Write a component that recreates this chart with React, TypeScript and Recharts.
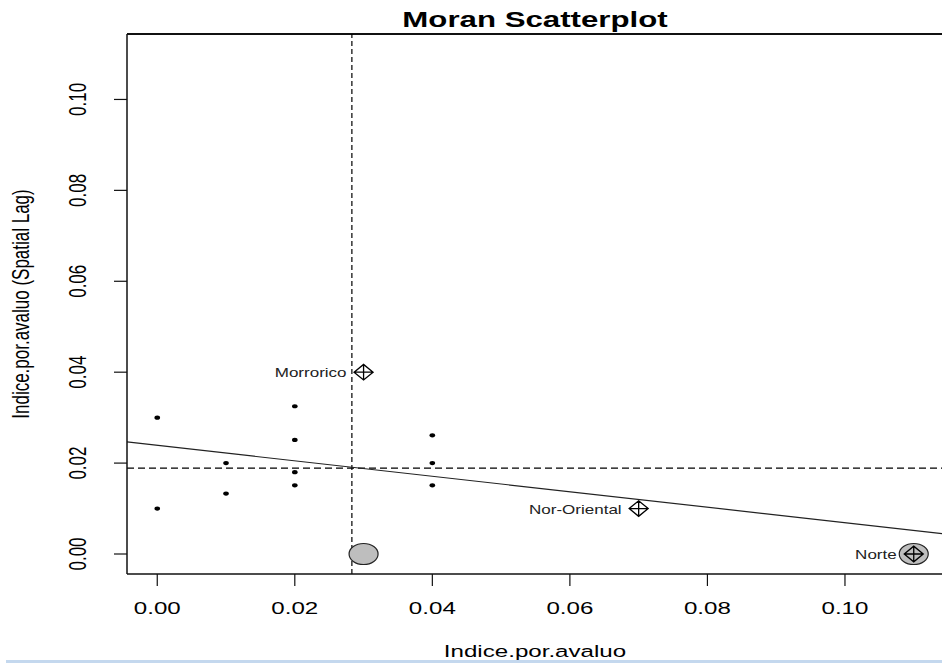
import { ReferenceLine, Scatter, ScatterChart, XAxis, YAxis, Label } from 'recharts';

// valores
const axisRange = [-0.0044, 0.1144];
const xTicks = [0, 0.02, 0.04, 0.06, 0.08, 0.1];
const yTicks = [0, 0.02, 0.04, 0.06, 0.08, 0.1];

const dotX = [0, 0, 0.01, 0.01, 0.02, 0.02, 0.02, 0.02, 0.04, 0.04, 0.04];
const dotY = [0.030, 0.010, 0.020, 0.0133, 0.0325, 0.0251, 0.018, 0.0151, 0.0261, 0.020, 0.0151];

const infNames = ['Morrorico', 'Nor-Oriental', 'Norte'];
const infX = [0.03, 0.07, 0.11];
const infY = [0.04, 0.01, 0];

const bubbleX = [0.03, 0.11];
const bubbleY = [0, 0];

const meanX = 0.0283;
const meanY = 0.0189;
const fitIntercept = 0.0239;
const fitSlope = -0.17;

const SX = 1.42; // la imagen original esta estirada en horizontal
const FONT = '"Liberation Sans", Arial, sans-serif';

const dots = dotX.map((x, i) => ({ x, y: dotY[i] }));
const influential = infX.map((x, i) => ({ x, y: infY[i], name: infNames[i] }));
const bubbles = bubbleX.map((x, i) => ({ x, y: bubbleY[i] }));
const fitLine = axisRange.map((x) => ({ x, y: fitIntercept + fitSlope * x }));

const StretchText = ({ x, y, size, text, anchor = 'middle', weight = 'normal', rotate = false, fill = '#000' }: any) => (
	<g transform={`translate(${x},${y}) scale(${SX},1)${rotate ? ' rotate(-90)' : ''}`}>
		<text x={0} y={0} dy="0.35em" textAnchor={anchor} fontSize={size} fontWeight={weight} fontFamily={FONT} fill={fill}>
			{text}
		</text>
	</g>
);

const XTick = (props: any) => <StretchText x={props.x} y={608} size={17} text={props.payload.value.toFixed(2)} />;
const YTick = (props: any) => <StretchText x={78} y={props.y} size={17} rotate text={props.payload.value.toFixed(2)} />;

const Dot = (props: any) => <ellipse cx={props.cx} cy={props.cy} rx={2.8} ry={2.1} fill="#000" />;

const Bubble = (props: any) => (
	<ellipse cx={props.cx} cy={props.cy} rx={14.5} ry={10.5} fill="#bebebe" stroke="#222" strokeWidth={1.2} />
);

const Diamond = (props: any) => {
	const { cx, cy, payload } = props;
	const w = 9.5;
	const h = 7.8;
	return (
		<g>
			<path
				d={`M${cx - w},${cy} L${cx},${cy - h} L${cx + w},${cy} L${cx},${cy + h} Z M${cx - w},${cy} L${cx + w},${cy} M${cx},${cy - h} L${cx},${cy + h}`}
				fill="none"
				stroke="#000"
				strokeWidth={1.3}
			/>
			<StretchText x={cx - 17} y={cy + 1} size={12} anchor="end" fill="#222" text={payload.name} />
		</g>
	);
};

const App = () => {
	return (
		<div style={{ position: 'absolute', left: 0, top: 0, width: 942, height: 663, overflow: 'hidden', background: '#fff' }}>
			<ScatterChart width={944} height={663} margin={{ top: 34, right: 0, bottom: 0, left: 0 }}>
				<XAxis
					type="number"
					dataKey="x"
					domain={axisRange}
					ticks={xTicks}
					allowDataOverflow
					height={89}
					axisLine={{ stroke: '#111', strokeWidth: 1.5 }}
					tickLine={{ stroke: '#111', strokeWidth: 1.2 }}
					tickSize={12}
					tick={<XTick />}
				>
					<Label
						content={() => <StretchText x={535} y={651} size={17} text="Indice.por.avaluo" />}
					/>
				</XAxis>
				<YAxis
					type="number"
					dataKey="y"
					domain={axisRange}
					ticks={yTicks}
					allowDataOverflow
					width={127}
					axisLine={{ stroke: '#111', strokeWidth: 1.5 }}
					tickLine={{ stroke: '#111', strokeWidth: 1.2 }}
					tickSize={13}
					tick={<YTick />}
				>
					<Label
						content={() => <StretchText x={21} y={304} size={17} rotate text="Indice.por.avaluo (Spatial Lag)" />}
					/>
				</YAxis>
				<ReferenceLine y={axisRange[1]} stroke="#111" strokeWidth={2} />
				<ReferenceLine x={meanX} stroke="#000" strokeDasharray="5 3" strokeWidth={1.2} />
				<ReferenceLine y={meanY} stroke="#000" strokeDasharray="7 4" strokeWidth={1.2} />
				<ReferenceLine
					segment={[fitLine[0], fitLine[1]]}
					stroke="#222"
					strokeWidth={1.2}
				/>
				<Scatter data={bubbles} shape={<Bubble />} isAnimationActive={false} />
				<Scatter data={dots} shape={<Dot />} isAnimationActive={false} />
				<Scatter data={influential} shape={<Diamond />} isAnimationActive={false} />
			</ScatterChart>
			<svg width={942} height={34} style={{ position: 'absolute', left: 0, top: 0 }}>
				<StretchText x={535} y={19.5} size={22} weight="bold" text="Moran Scatterplot" />
			</svg>
			<div style={{ position: 'absolute', left: 6, top: 660, width: 936, height: 3, background: '#c4d8ee' }} />
		</div>
	);
};

export default App;
